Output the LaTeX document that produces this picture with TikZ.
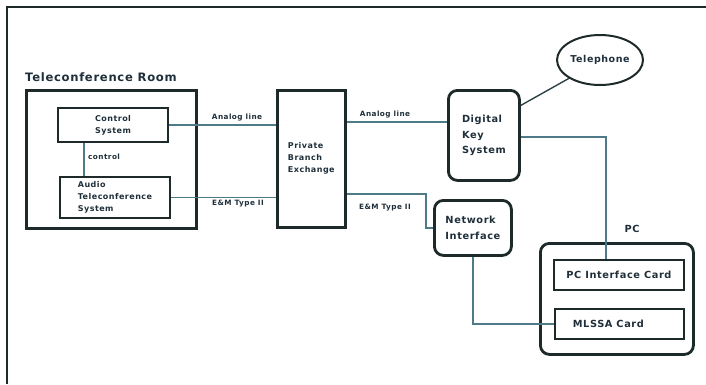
\documentclass[tikz,border=0pt]{standalone}
\usepackage{fontspec}
\setmainfont{DejaVu Sans}[BoldFont={DejaVu Sans Bold}]
\usetikzlibrary{shapes.geometric}
\definecolor{ink}{HTML}{1F2F3A}
\definecolor{edge}{HTML}{1E2A2A}
\definecolor{wire}{HTML}{4F7A88}
\newfontfamily\lblfont{DejaVu Sans Bold}[LetterSpace=6]
\tikzset{
  lbl/.style={font=\lblfont\fontsize{8}{12}\selectfont, text=ink, inner sep=0pt},
  big/.style={font=\lblfont\fontsize{9.8}{15.5}\selectfont, text=ink, inner sep=0pt},
  small/.style={font=\lblfont\fontsize{7.3}{8}\selectfont, text=ink, inner sep=0pt},
  sqbox/.style={draw=edge, line width=2pt, anchor=north west, lbl, align=left},
  rbox/.style={draw=edge, line width=2.8pt, rounded corners=9pt, anchor=north west, big, align=left},
  conn/.style={draw=wire, line width=1.4pt},
}
\begin{document}
\begin{tikzpicture}[x=1pt,y=-1pt]
\useasboundingbox (0,0) rectangle (706,384);
% outer frame
\draw[edge, line width=2.5pt] (7,384) -- (7,7) -- (706,7);

\node[anchor=west, font=\lblfont\fontsize{11.6}{13}\selectfont, text=ink, inner sep=0pt] (title) at (25,77) {Teleconference Room};
\node[sqbox, line width=3pt, minimum width=170pt, minimum height=138pt] (room) at (25,89) {};
\node[sqbox, minimum width=110pt, minimum height=34pt, align=center] (ctrl) at (57,107) {Control\\System};
\node[sqbox, minimum width=110pt, minimum height=41pt] (audio) at (59,176) {Audio\\Teleconference\\System};
\node[sqbox, line width=2.6pt, minimum width=68pt, minimum height=137pt] (pbx) at (276,89) {Private\\Branch\\Exchange};
\node[rbox, minimum width=71pt, minimum height=90pt] (dks) at (447,89) {Digital\\Key\\System};
\node[draw=edge, line width=2pt, ellipse, minimum width=86pt, minimum height=50pt, big, font=\lblfont\fontsize{9.5}{11}\selectfont] (tel) at (600,60) {Telephone};
\node[rbox, minimum width=77pt, minimum height=55pt] (ni) at (433,199) {Network\\Interface};
\node[rbox, minimum width=153pt, minimum height=111pt] (pc) at (539,242) {};
\node[big, anchor=center] (pclbl) at (632,229) {PC};
\node[sqbox, big, line width=1.8pt, minimum width=130pt, minimum height=30pt, align=center] (pcic) at (553,259) {PC Interface Card};
\node[sqbox, big, line width=1.8pt, minimum width=129pt, minimum height=30pt, align=center] (mlssa) at (554,308) {MLSSA Card\hspace*{22pt}};

% connectors
\draw[conn] (ctrl.south -| 84,0) -- (audio.north -| 84,0);
\node[small, anchor=west] (lctrl) at (88,157) {control};

\draw[conn] (ctrl.east) -- (ctrl.east -| pbx.west);
\node[small] (la1) at (237,118) {Analog line};
\draw[conn] (audio.east) -- (audio.east -| pbx.west);
\node[small] (le1) at (238,204) {E\&M Type II};

\coordinate (a2) at (400,122);
\draw[conn] (pbx.east |- a2) -- (dks.west |- a2);
\node[small] (la2) at (385,115) {Analog line};

\coordinate (e2) at (426,194);
\draw[conn] (pbx.east |- e2) -- (e2) |- (ni.west);
\node[small] (le2) at (385,208) {E\&M Type II};

\draw[conn, draw=edge!70!wire] ([yshift=30pt]dks.east) -- (tel.south west);
\coordinate (k) at (606,137);
\draw[conn] (dks.east |- k) -| (pcic.north -| k);
\draw[conn] (ni.south) |- (mlssa.west);
\end{tikzpicture}
\end{document}
